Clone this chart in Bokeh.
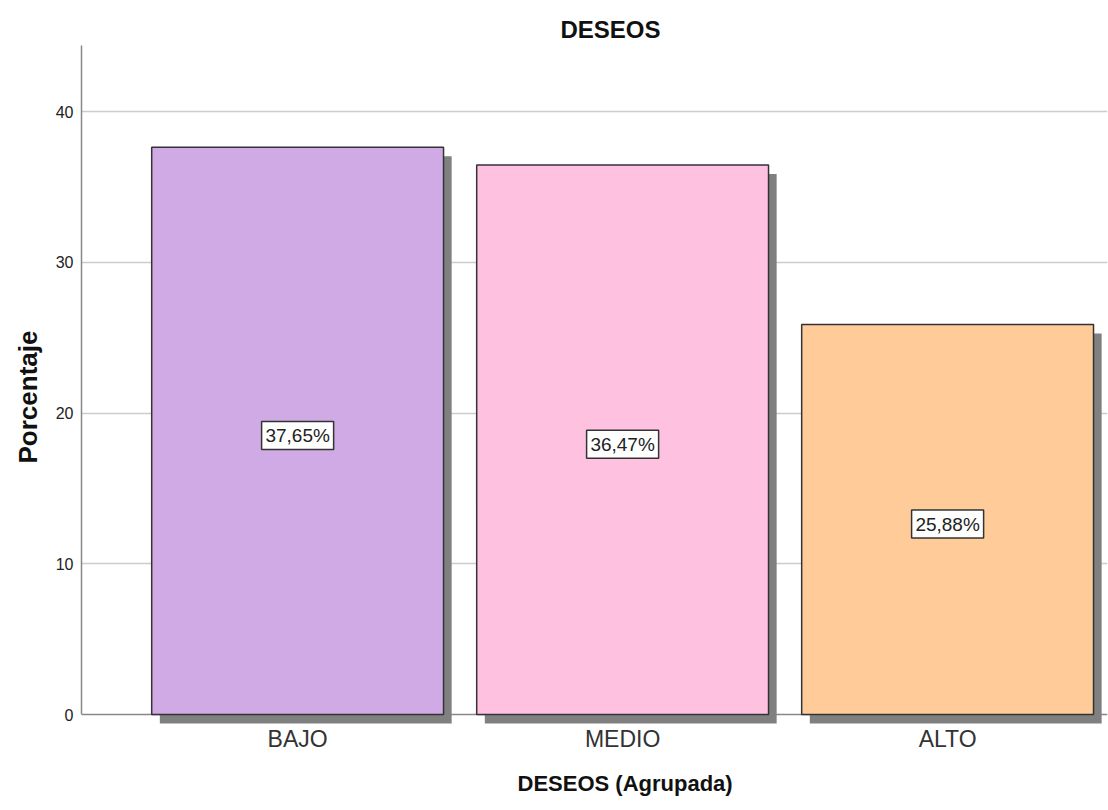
from bokeh.plotting import figure
from bokeh.models import ColumnDataSource, Range1d, FixedTicker, Span, Title
from bokeh.core.properties import value
from bokeh.embed import file_html
from bokeh.resources import INLINE

# Data
categories = ["BAJO", "MEDIO", "ALTO"]
percentages = [37.65, 36.47, 25.88]
bar_colors = ["#D0AAE4", "#FFC1E0", "#FFCC99"]
y_ticks = [0, 10, 20, 30, 40]

positions = [i + 1 for i in range(len(categories))]
bar_width = 0.898
shadow_dx = 0.025   # shadow shift to the right (x units)
shadow_dy = 0.6     # shadow shift downwards (y units)
y_top = 44.4

src = ColumnDataSource(dict(
    x=positions,
    cat=categories,
    val=percentages,
    color=bar_colors,
    left=[p - bar_width / 2 for p in positions],
    right=[p + bar_width / 2 for p in positions],
    sleft=[p - bar_width / 2 + shadow_dx for p in positions],
    sright=[p + bar_width / 2 + shadow_dx for p in positions],
    stop=[v - shadow_dy for v in percentages],
    mid=[v / 2 - 0.3 for v in percentages],
    label=[f"{v:.2f}%".replace(".", ",") for v in percentages],
))

p = figure(width=1108, height=810, output_backend="svg", toolbar_location=None,
           x_range=Range1d(0.335, 3.492), y_range=Range1d(-0.66, y_top),
           min_border_left=81, min_border_right=1,
           min_border_top=45, min_border_bottom=86)
p.outline_line_color = None
p.background_fill_color = "white"
p.border_fill_color = "white"

FONT = "Liberation Sans"

# Chart title
top_title = Title(text="DESEOS", align="left", offset=479, standoff=6,
                  text_font=FONT, text_font_size="24px", text_font_style="bold",
                  text_color="#111111")
p.add_layout(top_title, "above")

# Grid
p.xgrid.grid_line_color = None
p.ygrid.grid_line_color = "#cccccc"
p.ygrid.grid_line_width = 1.5
p.ygrid.ticker = FixedTicker(ticks=y_ticks[1:])

# Baseline at zero
p.add_layout(Span(location=0, dimension="width", line_color="#888888",
                  line_width=1.5, level="underlay"))

# Shadows, then bars
p.quad(left="sleft", right="sright", top="stop", bottom=-shadow_dy, source=src,
       fill_color="#808080", line_color=None)
p.quad(left="left", right="right", top="val", bottom=0, source=src,
       fill_color="color", line_color="#333333", line_width=1.5)

# Value labels: white boxes with the percentage inside
p.rect(x="x", y="mid", width=72, height=28, width_units="screen",
       height_units="screen", source=src, fill_color="white",
       line_color="#333333", line_width=1.5)
p.text(x="x", y="mid", text="label", source=src, text_align="center",
       text_baseline="middle", text_font=value(FONT),
       text_font_size="19px", text_color="#222222")

# Y axis
ya = p.yaxis[0]
ya.ticker = FixedTicker(ticks=y_ticks)
ya.bounds = (0, y_top)
ya.axis_line_color = "#888888"
ya.axis_line_width = 1.5
ya.major_tick_line_color = None
ya.major_tick_out = 0
ya.major_tick_in = 0
ya.minor_tick_line_color = None
ya.minor_tick_out = 0
ya.major_label_standoff = 8
ya.major_label_text_font = FONT
ya.major_label_text_font_size = "16px"
ya.major_label_text_color = "#222222"

# X axis
xa = p.xaxis[0]
xa.ticker = FixedTicker(ticks=positions)
xa.major_label_overrides = {pos: c for pos, c in zip(positions, categories)}
xa.axis_line_color = None
xa.major_tick_line_color = None
xa.major_tick_out = 0
xa.major_tick_in = 0
xa.minor_tick_line_color = None
xa.minor_tick_out = 0
xa.major_label_standoff = 1
xa.major_label_text_font = FONT
xa.major_label_text_font_size = "23px"
xa.major_label_text_color = "#333333"

# Axis titles
x_title = Title(text="DESEOS (Agrupada)", align="left", offset=436, standoff=29,
                text_font=FONT, text_font_size="22px", text_font_style="bold",
                text_color="#111111")
p.add_layout(x_title, "below")

y_title = Title(text="Porcentaje", align="left", offset=261, standoff=20,
                text_font=FONT, text_font_size="26px", text_font_style="bold",
                text_color="#111111")
p.add_layout(y_title, "left")

open("out.html", "w").write(file_html(p, INLINE))
